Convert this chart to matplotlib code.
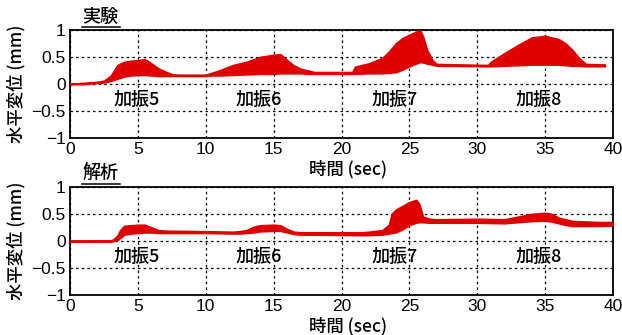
import matplotlib.pyplot as plt
from matplotlib.lines import Line2D

plt.rcParams['font.family'] = ['Noto Sans CJK JP', 'DejaVu Sans']

# envelope of the measured response (実験): time, upper and lower bounds
t_exp = [0, 1, 2, 2.5, 3, 3.5, 4, 4.5, 5, 5.5, 6, 6.5, 7, 7.5, 8, 10, 10.5, 11,
         12, 13, 14, 15, 15.5, 16, 16.5, 17, 17.5, 18, 20.8, 21, 22, 23, 23.5,
         24, 24.5, 25, 25.5, 25.8, 26, 26.3, 26.7, 27, 30.8, 31, 32, 33, 34,
         35, 36, 36.5, 37, 37.5, 38, 39.4]
up_exp = [0.0, 0.02, 0.04, 0.06, 0.15, 0.35, 0.41, 0.43, 0.44, 0.46, 0.38,
          0.29, 0.23, 0.18, 0.17, 0.17, 0.21, 0.25, 0.35, 0.41, 0.5, 0.54,
          0.55, 0.44, 0.34, 0.28, 0.25, 0.22, 0.22, 0.32, 0.38, 0.48, 0.6,
          0.75, 0.85, 0.91, 0.97, 0.99, 0.88, 0.63, 0.44, 0.37, 0.35, 0.41,
          0.57, 0.72, 0.86, 0.89, 0.83, 0.75, 0.63, 0.48, 0.37, 0.36]
lo_exp = [0.0, 0.0, 0.02, 0.03, 0.06, 0.1, 0.14, 0.16, 0.17, 0.17, 0.16, 0.15,
          0.15, 0.15, 0.15, 0.15, 0.16, 0.16, 0.17, 0.18, 0.19, 0.19, 0.2,
          0.2, 0.2, 0.2, 0.19, 0.19, 0.19, 0.19, 0.2, 0.2, 0.21, 0.22, 0.27,
          0.33, 0.38, 0.41, 0.4, 0.38, 0.36, 0.34, 0.33, 0.33, 0.34, 0.35,
          0.36, 0.36, 0.36, 0.35, 0.34, 0.34, 0.33, 0.33]

# envelope of the analysis result (解析)
t_ana = [0, 3, 3.2, 3.5, 3.7, 4, 4.5, 5, 5.5, 6, 6.5, 7, 10, 12, 12.5, 13,
         13.5, 14, 15, 15.5, 16, 16.5, 17, 21.5, 22, 23, 23.5, 23.7, 24, 24.5,
         25, 25.5, 25.7, 26, 26.5, 27, 30, 32, 33, 34, 35, 35.5, 36, 36.5, 37,
         38, 39, 40]
up_ana = [0.01, 0.01, 0.03, 0.1, 0.2, 0.28, 0.29, 0.3, 0.3, 0.25, 0.2, 0.19,
          0.18, 0.17, 0.18, 0.2, 0.26, 0.29, 0.3, 0.29, 0.22, 0.17, 0.16,
          0.16, 0.17, 0.2, 0.3, 0.5, 0.58, 0.65, 0.72, 0.76, 0.7, 0.45, 0.41,
          0.4, 0.41, 0.4, 0.45, 0.5, 0.52, 0.5, 0.43, 0.4, 0.37, 0.36, 0.35,
          0.35]
lo_ana = [-0.01, -0.01, 0.0, 0.02, 0.06, 0.12, 0.14, 0.15, 0.16, 0.16, 0.15,
          0.15, 0.15, 0.14, 0.14, 0.15, 0.16, 0.18, 0.19, 0.19, 0.16, 0.13,
          0.12, 0.11, 0.11, 0.12, 0.14, 0.15, 0.16, 0.22, 0.3, 0.34, 0.35,
          0.35, 0.34, 0.34, 0.34, 0.33, 0.35, 0.37, 0.38, 0.36, 0.33, 0.3,
          0.28, 0.28, 0.28, 0.29]

run_labels = ['加振5', '加振6', '加振7', '加振8']
run_x = [4.93, 13.9, 23.9, 34.5]
run_y = -0.3

panels = [('実験', t_exp, up_exp, lo_exp), ('解析', t_ana, up_ana, lo_ana)]

fig = plt.figure(figsize=(6.22, 3.35), dpi=100)
W, H = 622, 335
red = '#e00000'
jp_weight = 'medium'

for i, (title, t, up, lo) in enumerate(panels):
    top_px = 30 if i == 0 else 187
    ax = fig.add_axes([70 / W, 1 - (top_px + 108) / H, 543 / W, 108 / H])
    ax.fill_between(t, lo, up, color=red, edgecolor=red, linewidth=1.3, zorder=3)

    ax.set_xlim(0, 40)
    ax.set_ylim(-1, 1)
    ax.set_xticks([0, 5, 10, 15, 20, 25, 30, 35, 40])
    ax.set_yticks([-1, -0.5, 0, 0.5, 1])
    ax.set_yticklabels(['\u22121', '\u22120.5', '0', '0.5', '1'])
    ax.tick_params(length=0, labelsize=12.5, pad=3)
    for lab in ax.get_xticklabels() + ax.get_yticklabels():
        lab.set_family('Liberation Sans')
    ax.grid(True, color='k', linestyle=(0, (2, 2.5)), linewidth=0.9)
    for sp in ax.spines.values():
        sp.set_linewidth(1.3)

    ax.set_ylabel('水平変位 (mm)', fontsize=12.5, weight=jp_weight, va='center')
    ax.yaxis.set_label_coords(-0.1, 0.5)
    ax.set_xlabel('時間 (sec)', fontsize=12.5, weight=jp_weight, va='center')
    ax.xaxis.set_label_coords(0.512, -0.29)

    for lab, x in zip(run_labels, run_x):
        ax.text(x, run_y, lab, fontsize=13, weight=jp_weight,
                ha='center', va='center', zorder=4)

    # underlined panel title
    ax.text(0.023, 1.12, title, transform=ax.transAxes, fontsize=13,
            weight=jp_weight, ha='left', va='center')
    ax.add_line(Line2D([0.022, 0.092], [1.032, 1.032], transform=ax.transAxes,
                       color='k', linewidth=1.1, clip_on=False))

fig.savefig('out.png', dpi=100)
